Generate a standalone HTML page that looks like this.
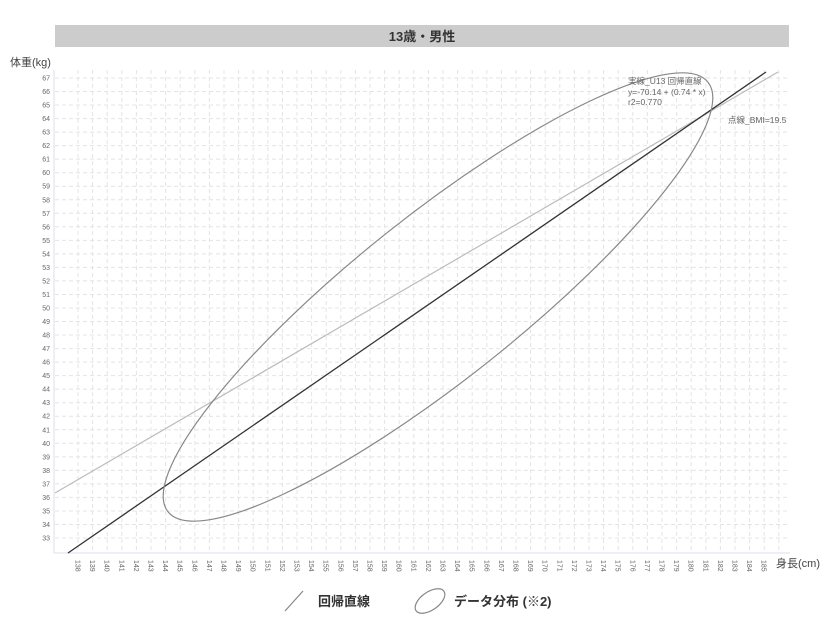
<!DOCTYPE html>
<html><head><meta charset="utf-8"><style>
body{margin:0;background:#fff;width:828px;height:631px;overflow:hidden;font-family:"Liberation Sans","Noto Sans CJK JP",sans-serif}
</style></head><body>
<svg width="828" height="631" xmlns="http://www.w3.org/2000/svg" font-family="Liberation Sans, Noto Sans CJK JP, sans-serif">
<rect x="55" y="25" width="734" height="22" fill="#cccccc"/>
<text x="422" y="41" font-size="13" font-weight="bold" text-anchor="middle" fill="#333">13歳・男性</text>
<text x="10" y="66" font-size="11" fill="#444">体重(kg)</text>
<text x="776" y="567" font-size="11" fill="#444">身長(cm)</text>
<g id="grid" stroke="#e4e4e4" stroke-dasharray="4,3" stroke-width="1"></g>
<line x1="54" y1="70" x2="54" y2="553" stroke="#dde" />
<line x1="54" y1="553" x2="790" y2="553" stroke="#dde" />
<g id="yl" font-size="7" fill="#666" text-anchor="end"></g>
<g id="xl" font-size="7" fill="#666"></g>
<line x1="55" y1="493" x2="778" y2="72" stroke="#bbb" stroke-width="1.2"/>
<line x1="68" y1="553" x2="766" y2="72" stroke="#333" stroke-width="1.3"/>
<ellipse cx="438" cy="297" rx="345" ry="82" transform="rotate(-38.5 438 297)" fill="none" stroke="#888" stroke-width="1.2"/>
<text x="628" y="84" font-size="8.5" fill="#666">実線_U13 回帰直線</text>
<text x="628" y="95" font-size="8.5" fill="#666">y=-70.14 + (0.74 * x)</text>
<text x="628" y="105" font-size="8.5" fill="#666">r2=0.770</text>
<text x="728" y="123" font-size="8.5" fill="#666">点線_BMI=19.5</text>
<line x1="285" y1="611" x2="303" y2="591" stroke="#888" stroke-width="1.2"/>
<text x="318" y="606" font-size="13" font-weight="bold" fill="#333">回帰直線</text>
<ellipse cx="430" cy="601" rx="17" ry="9" transform="rotate(-35 430 601)" fill="none" stroke="#888" stroke-width="1.2"/>
<text x="454" y="606" font-size="13" font-weight="bold" fill="#333">データ分布 (※2)</text>
</svg>
<script>
var ns="http://www.w3.org/2000/svg",g=document.getElementById("grid"),yl=document.getElementById("yl"),xl=document.getElementById("xl");
function el(t,a,p){var e=document.createElementNS(ns,t);for(var k in a)e.setAttribute(k,a[k]);p.appendChild(e);return e;}
for(var v=33;v<=67;v++){var y=538-(v-33)*13.53;el("line",{x1:55,x2:790,y1:y,y2:y},g);var t=el("text",{x:50,y:y+2.5},yl);t.textContent=v;}
for(var v=138;v<=186;v++){var x=78+(v-138)*14.6;if(x>790)break;el("line",{x1:x,x2:x,y1:70,y2:553},g);if(v<=185){var t=el("text",{x:0,y:0,transform:"translate("+(x-2.5)+",560) rotate(90)"},xl);t.textContent=v;}}
</script>
</body></html>
